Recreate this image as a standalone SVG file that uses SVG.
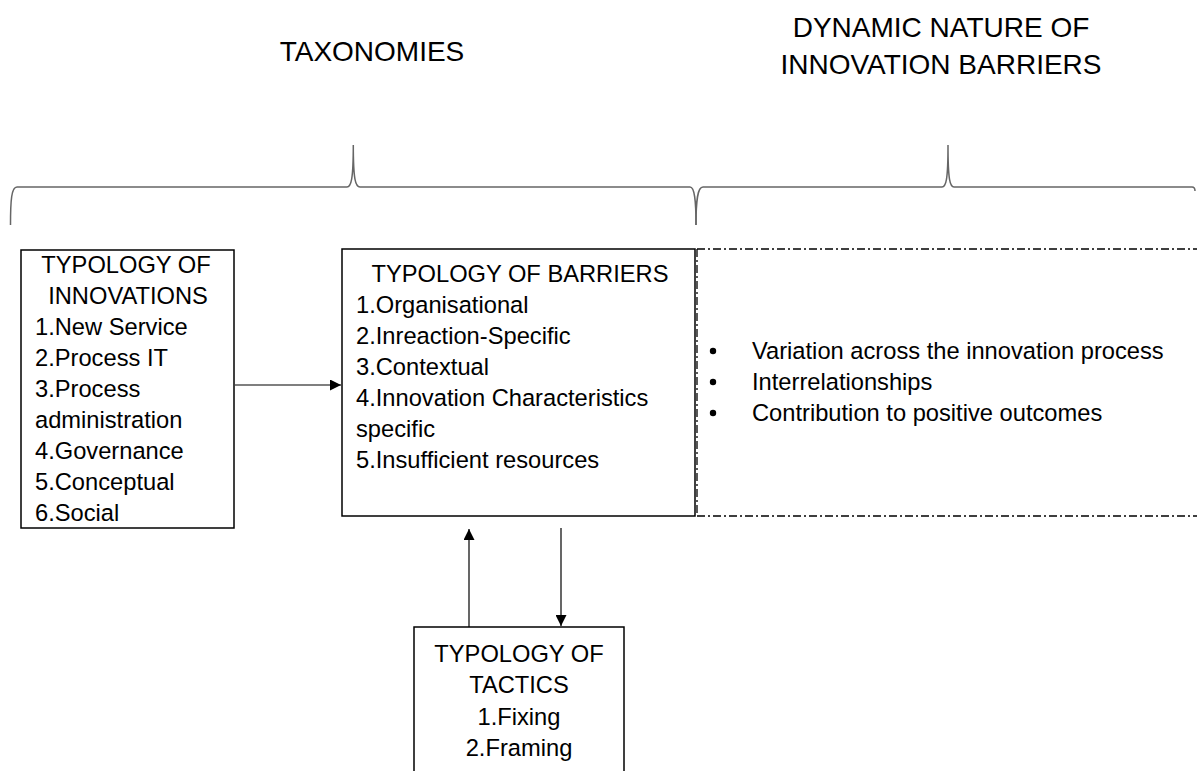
<svg xmlns="http://www.w3.org/2000/svg" width="1197" height="771" viewBox="0 0 1197 771">
<style>
  text { font-family: "Liberation Sans", Arial, sans-serif; fill: #000; }
  .title { font-size: 28px; text-anchor: middle; }
  .body { font-size: 23.7px; }
  .mid { text-anchor: middle; }
  .box { fill: #fff; stroke: #000; stroke-width: 1.5; }
  .brace { fill: none; stroke: #666; stroke-width: 1.5; }
  .dashdot { fill: none; stroke: #000; stroke-width: 1.3; stroke-dasharray: 8 3 2 3; }
  .conn { fill: none; stroke: #000; stroke-width: 1.2; }
</style>
<defs>
  <marker id="arrow" viewBox="0 0 10 10" refX="10" refY="5" markerWidth="11" markerHeight="11" markerUnits="userSpaceOnUse" orient="auto">
    <path d="M0,0 L10,5 L0,10 Z" fill="#000"/>
  </marker>
</defs>
<rect width="1197" height="771" fill="#fff"/>

<g id="titles">
  <text class="title" x="372" y="61">TAXONOMIES</text>
  <text class="title" x="941" y="37">DYNAMIC NATURE OF</text>
  <text class="title" x="941" y="74">INNOVATION BARRIERS</text>
</g>

<g id="braces">
  <path class="brace" d="M10.5,225 C10.5,200 11.5,187 17,187 L347,187 C351,187 353.3,180 353.3,145 C353.3,180 355.5,187 360,187 L690,187 C694.5,187 696,200 696,225"/>
  <path class="brace" d="M696,225 C696,200 697.5,187 703,187 L942,187 C946,187 948,180 948,145 C948,180 950,187 954,187 L1192,187 C1194,187 1195,188 1195,191"/>
</g>

<g id="connectors">
  <line class="conn" x1="235" y1="385" x2="341" y2="385" marker-end="url(#arrow)"/>
  <line class="conn" x1="469" y1="627" x2="469" y2="529" marker-end="url(#arrow)"/>
  <line class="conn" x1="561" y1="528" x2="561" y2="626" marker-end="url(#arrow)"/>
</g>

<g id="innovations">
  <rect class="box" x="21" y="250" width="213" height="278"/>
  <text class="body mid" x="126" y="273">TYPOLOGY OF</text>
  <text class="body mid" x="128" y="304">INNOVATIONS</text>
  <text class="body" x="35" y="335">1.New Service</text>
  <text class="body" x="35" y="366">2.Process IT</text>
  <text class="body" x="35" y="397">3.Process</text>
  <text class="body" x="35" y="428">administration</text>
  <text class="body" x="35" y="459">4.Governance</text>
  <text class="body" x="35" y="490">5.Conceptual</text>
  <text class="body" x="35" y="521">6.Social</text>
</g>

<g id="barriers">
  <rect class="box" x="342" y="249" width="353" height="267"/>
  <text class="body mid" x="520" y="282">TYPOLOGY OF BARRIERS</text>
  <text class="body" x="356" y="313">1.Organisational</text>
  <text class="body" x="356" y="344">2.Inreaction-Specific</text>
  <text class="body" x="356" y="375">3.Contextual</text>
  <text class="body" x="356" y="406">4.Innovation Characteristics</text>
  <text class="body" x="356" y="437">specific</text>
  <text class="body" x="356" y="468">5.Insufficient resources</text>
</g>

<g id="dynamic">
  <path class="dashdot" d="M697,249 L1197,249 M697,516 L1197,516 M697,249 L697,516"/>
  <circle cx="713" cy="351" r="3.2" fill="#000"/>
  <circle cx="713" cy="382" r="3.2" fill="#000"/>
  <circle cx="713" cy="413" r="3.2" fill="#000"/>
  <text class="body" x="752" y="359">Variation across the innovation process</text>
  <text class="body" x="752" y="390">Interrelationships</text>
  <text class="body" x="752" y="421">Contribution to positive outcomes</text>
</g>

<g id="tactics">
  <rect class="box" x="414" y="627" width="210" height="160"/>
  <text class="body mid" x="519" y="662">TYPOLOGY OF</text>
  <text class="body mid" x="519" y="693">TACTICS</text>
  <text class="body mid" x="519" y="725">1.Fixing</text>
  <text class="body mid" x="519" y="756">2.Framing</text>
</g>
</svg>
